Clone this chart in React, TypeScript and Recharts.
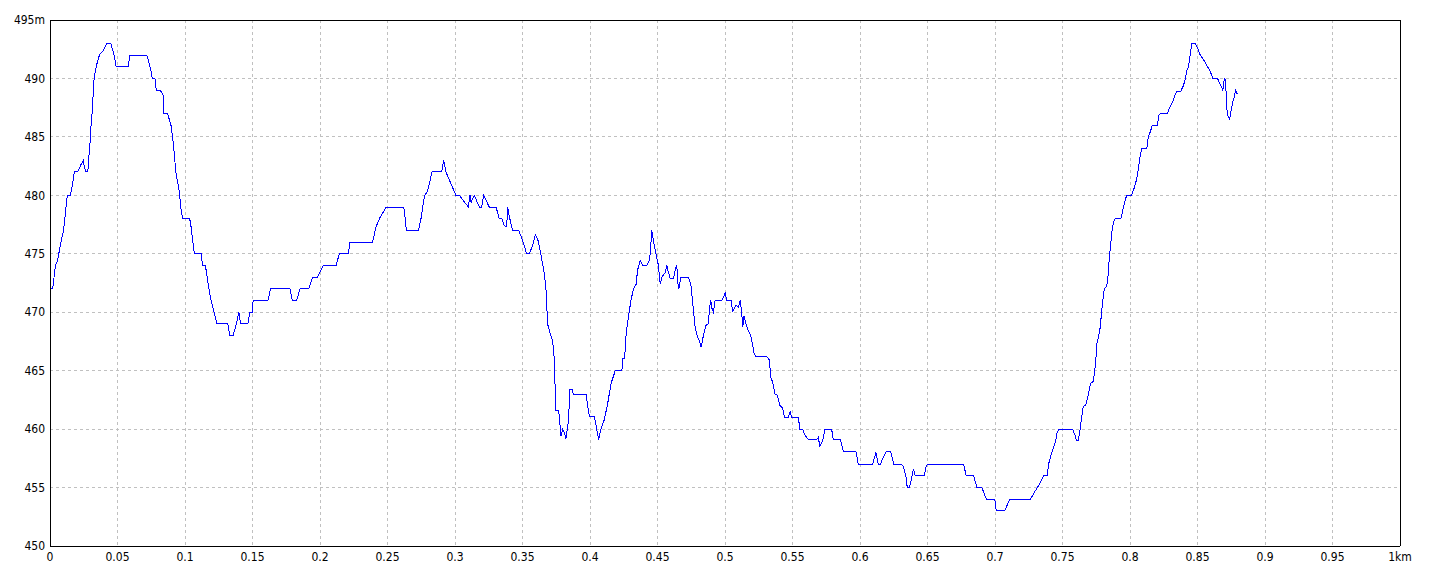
import React from 'react';
import { LineChart, Line, XAxis, YAxis, CartesianGrid, ReferenceLine } from 'recharts';

// distance along the track (km) and elevation (m)
const distanceKm = [
  0, 0.002, 0.003, 0.004, 0.0055, 0.007, 0.0087, 0.01, 0.011, 0.0124, 0.013, 0.015, 0.0168, 0.018, 0.0205,
  0.0228, 0.0247, 0.0255, 0.0265, 0.028, 0.029, 0.03, 0.0304, 0.0314, 0.0322, 0.0327, 0.0342, 0.036, 0.0372,
  0.0396, 0.042, 0.045, 0.0465, 0.0475, 0.049, 0.058, 0.059, 0.0715, 0.0728, 0.0747, 0.0757, 0.0777, 0.0787,
  0.0817, 0.0837, 0.0842, 0.0871, 0.0886, 0.0898, 0.0908, 0.092, 0.0933, 0.0948, 0.096, 0.0968, 0.0983, 0.1035,
  0.1045, 0.1057, 0.107, 0.1119, 0.1131, 0.1151, 0.1163, 0.1176, 0.1188, 0.12, 0.1213, 0.1225, 0.1237, 0.1317,
  0.1332, 0.1356, 0.1374, 0.1399, 0.141, 0.1418, 0.1465, 0.148, 0.1497, 0.1505, 0.1614, 0.1634, 0.1777, 0.1795,
  0.1827, 0.1852, 0.1916, 0.1946, 0.198, 0.2025, 0.2119, 0.2143, 0.221, 0.2222, 0.239, 0.2415, 0.244, 0.249,
  0.262, 0.2632, 0.264, 0.273, 0.2748, 0.2773, 0.2798, 0.283, 0.2901, 0.2916, 0.2933, 0.297, 0.3007, 0.3032,
  0.3099, 0.3111, 0.3119, 0.3143, 0.318, 0.3198, 0.3212, 0.3254, 0.3304, 0.3328, 0.3348, 0.3365, 0.3383, 0.339,
  0.3402, 0.3427, 0.3472, 0.3496, 0.3531, 0.355, 0.3575, 0.3595, 0.3612, 0.3637, 0.3662, 0.3674, 0.3686, 0.3704,
  0.3723, 0.3736, 0.3743, 0.3748, 0.3768, 0.3785, 0.3798, 0.381, 0.3822, 0.384, 0.3852, 0.3867, 0.3877, 0.397,
  0.3995, 0.4032, 0.4064, 0.4081, 0.4106, 0.4131, 0.4156, 0.4187, 0.4236, 0.4244, 0.4256, 0.4268, 0.4285,
  0.4303, 0.4322, 0.4342, 0.4352, 0.4372, 0.4391, 0.4421, 0.4441, 0.4446, 0.4458, 0.447, 0.449, 0.4507, 0.452,
  0.4532, 0.4557, 0.4569, 0.4581, 0.4594, 0.4618, 0.4638, 0.4643, 0.465, 0.4658, 0.4673, 0.4729, 0.4747, 0.4766,
  0.4779, 0.4796, 0.4811, 0.4823, 0.484, 0.486, 0.4877, 0.4885, 0.4895, 0.4904, 0.4914, 0.4927, 0.4976, 0.4993,
  0.5001, 0.5013, 0.5045, 0.5057, 0.507, 0.5082, 0.5099, 0.5112, 0.5124, 0.5131, 0.5141, 0.5156, 0.5173, 0.519,
  0.5205, 0.5215, 0.523, 0.5309, 0.5329, 0.5338, 0.5353, 0.5371, 0.5388, 0.5408, 0.5427, 0.544, 0.5469, 0.5482,
  0.5494, 0.5543, 0.5555, 0.5575, 0.5592, 0.5617, 0.5679, 0.5691, 0.5703, 0.5723, 0.574, 0.579, 0.5802, 0.5856,
  0.5876, 0.597, 0.5987, 0.6093, 0.6118, 0.6135, 0.6152, 0.6172, 0.6197, 0.6226, 0.6251, 0.6308, 0.632, 0.634,
  0.635, 0.6366, 0.6384, 0.6396, 0.641, 0.6475, 0.649, 0.65, 0.6767, 0.6787, 0.6842, 0.6866, 0.6903, 0.6936,
  0.6998, 0.701, 0.7072, 0.7109, 0.7262, 0.7287, 0.7324, 0.7361, 0.7386, 0.7399, 0.7423, 0.7448, 0.746, 0.7473,
  0.7574, 0.7592, 0.7604, 0.7616, 0.7629, 0.7641, 0.7653, 0.7673, 0.769, 0.7708, 0.7728, 0.774, 0.7748, 0.7752,
  0.7765, 0.7777, 0.779, 0.7797, 0.781, 0.7827, 0.7839, 0.7847, 0.7856, 0.7869, 0.7884, 0.7889, 0.7933, 0.795,
  0.7963, 0.7975, 0.8012, 0.803, 0.8045, 0.8054, 0.8062, 0.8074, 0.8087, 0.8124, 0.8136, 0.8149, 0.8166, 0.8203,
  0.8215, 0.8228, 0.8277, 0.8297, 0.8317, 0.8334, 0.8347, 0.8376, 0.8396, 0.8408, 0.8421, 0.8433, 0.8446, 0.8458,
  0.8483, 0.85, 0.852, 0.8545, 0.857, 0.8594, 0.8614, 0.8649, 0.8663, 0.8676, 0.8688, 0.8698, 0.8703, 0.871,
  0.8715, 0.8723, 0.8738, 0.8748, 0.8762, 0.8772, 0.8782, 0.8792, 0.88,
];

const elevationM = [
  472, 472, 473, 474, 474.4, 475.3, 476.3, 477, 478, 479.6, 480, 480, 481, 482, 482,
  482.6, 483, 482.4, 482, 482, 483.6, 485, 486, 487.3, 489.3, 490, 491, 491.8, 492.1,
  492.4, 493, 493, 492.4, 492, 491, 491, 492, 492, 491.6, 490.7, 490, 490, 489,
  489, 488.6, 487, 487, 486.4, 485.9, 485, 483.6, 481.9, 481, 480.1, 479, 478, 478,
  477.3, 476.1, 475, 475, 474, 474, 473.1, 472.1, 471.3, 470.7, 470.1, 469.6, 469, 469,
  468, 468, 468.7, 470, 469.1, 469, 469, 470, 470, 471, 471, 472, 472, 471,
  471, 472, 472, 473, 473, 474, 474, 475, 475, 476, 476, 477.3, 478, 479,
  479, 477.9, 477, 477, 478, 479.9, 480.4, 482, 482, 483, 482, 481, 480, 480,
  479, 480, 479.4, 480, 479, 479, 480, 479, 479, 478, 478, 477.4, 477.3, 479,
  478.2, 477, 477, 476.3, 475, 475, 475.7, 476.6, 476.3, 474.9, 473.3, 471.9, 469, 468.2,
  467.6, 465.9, 462.9, 461.6, 461.6, 459.4, 460, 459.7, 459.2, 460.7, 463.4, 463.4, 463, 463,
  461.1, 461.1, 459.1, 460, 460.8, 462.2, 463.9, 465, 465, 466, 466, 468.2, 469.6,
  471, 472, 472.4, 473.6, 474.4, 474, 474, 474.5, 475.1, 477, 476.1, 474.9, 474, 472.4,
  473, 473.4, 474, 473.4, 472.9, 472.9, 473.9, 474, 472.6, 472, 473, 473, 472.4, 470.2,
  468.7, 467.9, 467.5, 467, 468, 468.9, 469, 470.3, 471, 470.3, 470, 471, 471, 471.4,
  471.7, 471, 471, 470, 470.4, 470.6, 470.4, 471, 470, 468.7, 469.7, 469, 468.4, 468,
  467.2, 466.5, 466.2, 466.2, 465.9, 464.5, 464, 463, 462.9, 462, 461.8, 461, 461, 461.5,
  461, 461, 460, 460, 459.5, 459.1, 459.1, 459.3, 458.5, 459, 460, 460, 459.1, 459.1,
  458.1, 458.1, 457, 457, 458, 457, 457, 457.6, 458.1, 458.1, 457, 457, 456.8, 456,
  455, 455, 455.9, 456.6, 456, 456, 456.8, 457, 457, 456, 456, 455, 455, 454,
  454, 453, 453, 454, 454, 454.5, 455.2, 456, 456, 457.1, 458.1, 458.9, 459.7, 460,
  460, 459.5, 459, 459, 459.9, 460.9, 461.9, 462.1, 462.9, 463.9, 464.1, 465.1, 466.1, 467.2,
  467.8, 468.5, 470, 470.9, 472, 472.2, 473.3, 474.7, 475.7, 477.2, 477.9, 478, 478, 478.9,
  479.5, 480, 480, 480.6, 481.2, 481.7, 482.3, 483.3, 484, 484, 485, 485.4, 486, 486,
  486.9, 487, 487, 487.6, 488, 488.6, 488.9, 488.9, 489.4, 489.9, 490.7, 491, 492, 493,
  493, 492.6, 492, 491.6, 491.1, 490.6, 490, 490, 489.6, 489.3, 489, 489.9, 490, 489.3,
  487.7, 486.9, 486.5, 487.2, 488, 488.4, 489, 488.7, 488.7,
];

const xTicks = [0, 0.05, 0.1, 0.15, 0.2, 0.25, 0.3, 0.35, 0.4, 0.45, 0.5, 0.55, 0.6, 0.65, 0.7, 0.75, 0.8, 0.85, 0.9, 0.95, 1];
const xTickLabels = ['0', '0.05', '0.1', '0.15', '0.2', '0.25', '0.3', '0.35', '0.4', '0.45', '0.5', '0.55', '0.6', '0.65', '0.7', '0.75', '0.8', '0.85', '0.9', '0.95', '1km'];
const yTicks = [450, 455, 460, 465, 470, 475, 480, 485, 490, 495];
const yTickLabels = ['450', '455', '460', '465', '470', '475', '480', '485', '490', '495m'];

const data = distanceKm.map((d, i) => ({ d, elev: elevationM[i] }));

const tickStyle = { fontSize: 12, fill: '#000', fontFamily: "'Liberation Sans Narrow', 'DejaVu Sans Condensed', sans-serif" };
const frame = { stroke: '#000', shapeRendering: 'crispEdges' };

const App: React.FC = () => {
  return (
    <div style={{ position: 'absolute', left: 0, top: 0, width: 1440, height: 576, background: '#fff' }}>
      <LineChart width={1440} height={576} data={data} margin={{ top: 20, right: 40, bottom: 0, left: 0 }}>
        <CartesianGrid stroke="#c0c0c0" strokeDasharray="3 3" shapeRendering="crispEdges" />
        <XAxis
          dataKey="d"
          type="number"
          domain={[0, 1]}
          ticks={xTicks}
          interval={0}
          tickFormatter={(v: number) => xTickLabels[xTicks.indexOf(v)] ?? String(v)}
          tick={tickStyle}
          tickLine={false}
          tickSize={4}
          axisLine={frame}
          height={30}
        />
        <YAxis
          type="number"
          domain={[450, 495]}
          ticks={yTicks}
          interval={0}
          tickFormatter={(v: number) => yTickLabels[yTicks.indexOf(v)] ?? String(v)}
          tick={tickStyle}
          tickLine={false}
          tickSize={3}
          axisLine={frame}
          width={50}
        />
        <ReferenceLine y={495} stroke="#000" shapeRendering="crispEdges" />
        <ReferenceLine x={1} stroke="#000" shapeRendering="crispEdges" />
        <Line
          type="linear"
          dataKey="elev"
          stroke="#0000ff"
          strokeWidth={1}
          dot={false}
          shapeRendering="crispEdges"
          isAnimationActive={false}
        />
      </LineChart>
    </div>
  );
};

export default App;
